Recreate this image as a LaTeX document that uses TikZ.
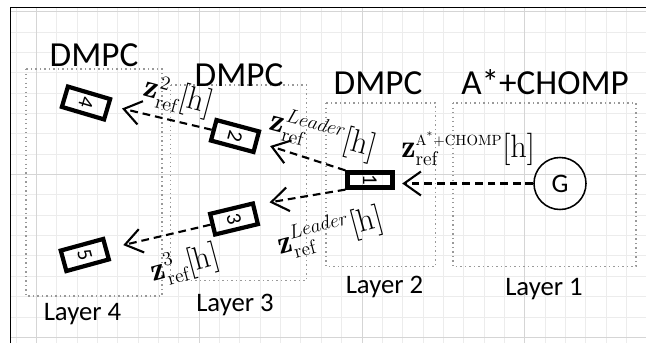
\RequirePackage{fix-cm}
\documentclass[tikz,border=0pt]{standalone}
\usepackage{fontspec}
\setsansfont{Carlito}
\usepackage{graphicx}
\usetikzlibrary{arrows.meta}
\DeclareMathSizes{23}{23}{14}{10}

\tikzset{
    minorgrid/.style = {gray!15, line width = 0.6pt},
    majorgrid/.style = {gray!33, line width = 0.6pt},
    layerbox/.style = {gray!80, line width = 0.9pt, dash pattern = on 0.9pt off 2.3pt},
    car/.style = {draw, line width = 3pt, minimum width = 1.1cm, minimum height = 0.53cm,
        inner sep = 0pt, font = \sffamily\fontsize{15}{15}\selectfont},
    flow/.style = {line width = 1.5pt, dash pattern = on 5.5pt off 3.5pt,
        -{Straight Barb[length = 12pt, width = 17pt]}},
    reflabel/.style = {inner sep = 0pt, font = \fontsize{23}{23}\selectfont},
    heading/.style = {anchor = base, inner sep = 0pt, font = \sffamily\fontsize{25}{25}\selectfont},
    layername/.style = {anchor = base, inner sep = 0pt, font = \sffamily\fontsize{19}{19}\selectfont}
}
\newcommand{\planner}{\mbox{\fontsize{10.5}{11}\selectfont A\textsuperscript{*}+CHOMP}}

\begin{document}
\begin{tikzpicture}[x = 0.025cm, y = -0.025cm]
        \useasboundingbox (0, 0) rectangle (646, 343);
        \foreach \k in {0, ..., 30}{
            \draw[minorgrid] ({16 + 20.35*\k}, 7.5) -- ({16 + 20.35*\k}, 343);
        }
        \foreach \k in {0, ..., 16}{
            \draw[minorgrid] (10.5, {11.7 + 20.35*\k}) -- (646, {11.7 + 20.35*\k});
        }
        \foreach \x in {36.35, 199.15, 361.95, 524.75}{
            \draw[majorgrid] (\x, 7.5) -- (\x, 343);
        }
        \foreach \y in {11.7, 174.5, 337.3}{
            \draw[majorgrid] (10.5, \y) -- (646, \y);
        }
        \draw[line width = 1pt] (10.5, 343) -- (10.5, 7.5) -- (646, 7.5);

        % layers
        \foreach \xa/\ya/\xb/\yb in {26/69/162/296, 170.5/85/306.5/280.5, 326/103/435.5/266.5, 453/103/636/266.5}{
            \draw[layerbox] (\xa, \ya) rectangle (\xb, \yb);
        }
        \foreach \x/\y/\t [count = \i] in {94/66.5/DMPC, 239/86/DMPC, 378/94/DMPC, 545/94/A*+CHOMP}{
            \node[heading] (head\i) at (\x, \y) {\t};
        }
        \foreach \x/\y/\n in {82.5/320/4, 235/311/3, 384.5/293/2, 544/295/1}{
            \node[layername] (layer\n) at (\x, \y) {Layer \n};
        }

        % vehicles
        \node[car, minimum width = 1.125cm, minimum height = 0.375cm] (v1) at (370, 180) {\rotatebox{-90}{1}};
        \node[car, rotate = -15] (v2) at (235, 136) {\rotatebox{-90}{2}};
        \node[car, rotate = 13.6] (v3) at (234, 219) {\rotatebox{-90}{3}};
        \node[car, rotate = -16.5] (v4) at (86, 103) {\rotatebox{-90}{4}};
        \node[car, rotate = 15.3] (v5) at (84.8, 255) {\rotatebox{-90}{5}};
        \node[circle, draw, line width = 1.1pt, minimum size = 1.3cm, inner sep = 0pt,
            font = \sffamily\fontsize{19}{19}\selectfont] (g) at (560, 183.5) {G};

        \draw[flow, shorten > = 0.19cm] (g.west) -- (g.west -| v1.east);
        \draw[flow, shorten > = 0.31cm] (v1.north west) -- (v2.east);
        \draw[flow, shorten > = 0.36cm] (v1.south west) -- (v3.20);
        \draw[flow, shorten > = 0.30cm] (v2.west) -- (v4.10);
        \draw[flow, shorten > = 0.39cm] (v3.west) -- (v5.east);

        \node[reflabel, anchor = base west] (refg) at (401, 157) {$\mathbf{z}_{\mathrm{ref}}^{\planner}[\mathrm{h}]$};
        \node[reflabel, rotate = -15] (ref12) at (323, 135) {$\mathbf{z}_{\mathrm{ref}}^{Leader}[\mathrm{h}]$};
        \node[reflabel, rotate = 15] (ref13) at (330, 232) {$\mathbf{z}_{\mathrm{ref}}^{Leader}[\mathrm{h}]$};
        \node[reflabel, rotate = -15] (ref24) at (178, 97) {$\mathbf{z}_{\mathrm{ref}}^{2}[\mathrm{h}]$};
        \node[reflabel, rotate = 15] (ref35) at (185, 265) {$\mathbf{z}_{\mathrm{ref}}^{3}[\mathrm{h}]$};
    \end{tikzpicture}
\end{document}
